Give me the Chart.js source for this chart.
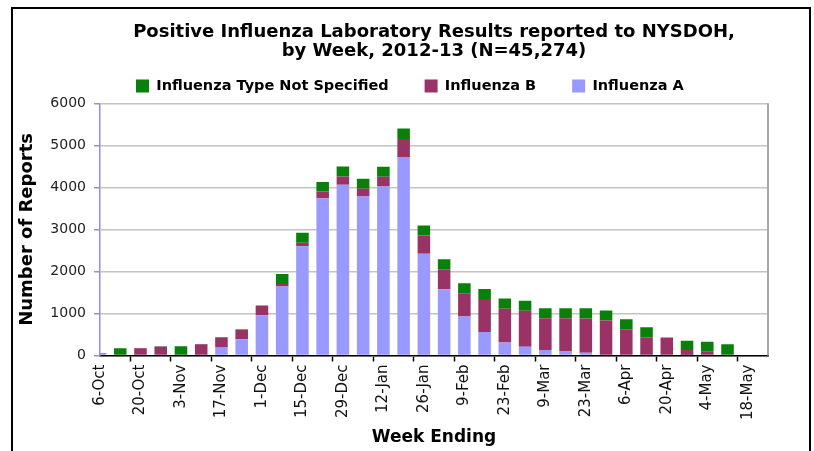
<!DOCTYPE html>
<html>
<head>
<meta charset="utf-8">
<script src="https://cdn.jsdelivr.net/npm/chart.js@4/dist/chart.umd.min.js"></script>
<style>
body { margin: 0; background: #fff; }
#wrap { position: relative; width: 814px; height: 451px; overflow: hidden; background: #fff; }
#frame { position: absolute; left: 11px; top: 7px; width: 796px; height: 470px; border: 2px solid #000; pointer-events: none; }
</style>
</head>
<body>
<div id="wrap">
<canvas id="fluChart" width="814" height="451"></canvas>
<div id="frame"></div>
</div>
<script>
// week ending dates (every other one gets a label)
var weeks = ['6-Oct', '13-Oct', '20-Oct', '27-Oct', '3-Nov', '10-Nov', '17-Nov', '24-Nov',
    '1-Dec', '8-Dec', '15-Dec', '22-Dec', '29-Dec', '5-Jan', '12-Jan', '19-Jan',
    '26-Jan', '2-Feb', '9-Feb', '16-Feb', '23-Feb', '2-Mar', '9-Mar', '16-Mar',
    '23-Mar', '30-Mar', '6-Apr', '13-Apr', '20-Apr', '27-Apr', '4-May', '11-May',
    '18-May', '25-May'];

var fluA = [40, 0, 0, 20, 0, 20, 200, 385, 960, 1640, 2600, 3740, 4060, 3780, 4020, 4720,
    2420, 1575, 925, 560, 310, 210, 130, 105, 65, 20, 0, 0, 0, 10, 0, 0, 0, 0];
var fluB = [10, 20, 170, 190, 20, 250, 230, 230, 220, 60, 80, 160, 200, 185, 235, 430,
    435, 475, 555, 785, 805, 855, 755, 780, 815, 810, 625, 433, 430, 120, 90, 0, 0, 0];
var notSpecified = [10, 150, 10, 10, 200, 5, 10, 10, 10, 240, 240, 225, 235, 240, 235, 250,
    235, 240, 240, 240, 240, 235, 240, 240, 245, 240, 240, 238, 0, 220, 240, 270, 0, 0];

var yMax = 6000;
var yStep = 1000;

var fontName = 'DejaVu Sans';
Chart.defaults.color = '#000';
Chart.defaults.font.family = fontName;

// gray line on the right edge of the plot
var plotBorder = {
    id: 'plotBorder',
    beforeDatasetsDraw: function(chart) {
        var area = chart.chartArea;
        var ctx = chart.ctx;
        ctx.save();
        ctx.strokeStyle = '#a8a8a8';
        ctx.lineWidth = 2;
        ctx.beginPath();
        ctx.moveTo(area.right, area.top);
        ctx.lineTo(area.right, area.bottom);
        ctx.stroke();
        ctx.restore();
    }
};

var ctx = document.getElementById('fluChart').getContext('2d');

var data = {
    labels: weeks,
    datasets: [{
        label: 'Influenza A',
        data: fluA,
        backgroundColor: '#9999ff',
        borderWidth: 0,
        clip: 0
    }, {
        label: 'Influenza B',
        data: fluB,
        backgroundColor: '#993366',
        borderWidth: 0,
        clip: 0
    }, {
        label: 'Influenza Type Not Specified',
        data: notSpecified,
        backgroundColor: '#0a800a',
        borderWidth: 0,
        clip: 0
    }]
};

var options = {
    responsive: false,
    animation: false,
    barPercentage: 0.62,
    categoryPercentage: 1,
    layout: {
        padding: { left: 16, right: 46, top: 20, bottom: 2 }
    },
    plugins: {
        title: {
            display: true,
            fullSize: false,
            text: ['Positive Influenza Laboratory Results reported to NYSDOH,', 'by Week, 2012-13 (N=45,274)'],
            font: { family: fontName, size: 18, weight: 'bold', lineHeight: 1.05 },
            color: '#000',
            padding: { top: 3, bottom: -18 }
        },
        legend: {
            display: true,
            fullSize: false,
            align: 'start',
            reverse: true,
            labels: {
                boxWidth: 13,
                boxHeight: 13,
                padding: 36,
                color: '#000',
                font: { family: fontName, size: 14.5, weight: 'bold' }
            }
        },
        tooltip: { enabled: false }
    },
    scales: {
        x: {
            stacked: true,
            offset: false,
            grid: {
                drawOnChartArea: false,
                drawTicks: true,
                tickLength: 6,
                tickWidth: 1.5,
                tickColor: function(c) { return c.index % 2 === 0 ? '#000' : 'rgba(0,0,0,0)'; }
            },
            border: { color: '#000', width: 1.5 },
            ticks: {
                autoSkip: false,
                minRotation: 90,
                maxRotation: 90,
                padding: 3,
                color: '#111',
                font: { family: fontName, size: 15 },
                callback: function(value, index) {
                    return index % 2 === 0 ? weeks[index] : '';
                }
            },
            title: {
                display: true,
                text: 'Week Ending',
                color: '#000',
                font: { family: fontName, size: 17, weight: 'bold' },
                padding: { top: 0, bottom: 1 }
            },
            afterFit: function(scale) { scale.height = 93.5; }
        },
        y: {
            stacked: true,
            min: 0,
            max: yMax,
            grid: {
                color: '#c4c4c4',
                lineWidth: 1.5,
                tickLength: 6,
                tickColor: '#999'
            },
            border: { color: '#8c8cff', width: 1.5 },
            ticks: {
                stepSize: yStep,
                padding: 8,
                color: '#222',
                font: { family: fontName, size: 14 },
                callback: function(value) { return String(value); }
            },
            title: {
                display: true,
                text: 'Number of Reports',
                color: '#000',
                font: { family: fontName, size: 18, weight: 'bold' },
                padding: { top: 1, bottom: 0 }
            },
            afterFit: function(scale) { scale.width = 84; }
        }
    }
};

var fluChart = new Chart(ctx, {
    type: 'bar',
    data: data,
    options: options,
    plugins: [plotBorder]
});
</script>
</body>
</html>
